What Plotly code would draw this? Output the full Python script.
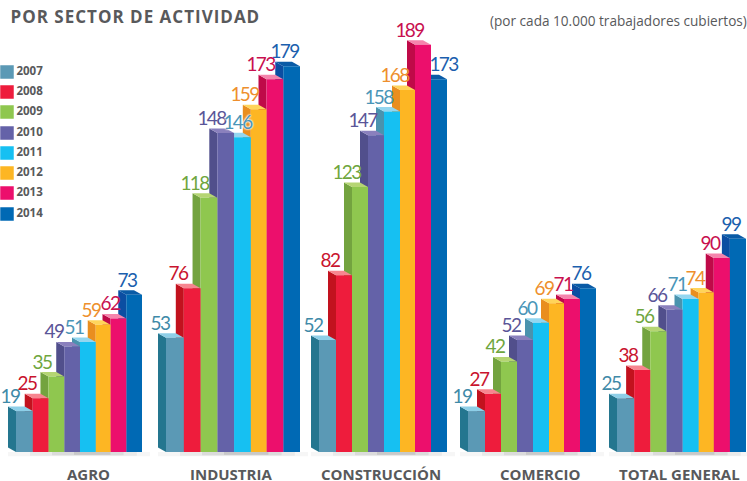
import plotly.graph_objects as go

# ---------- data ----------
years = ["2007", "2008", "2009", "2010", "2011", "2012", "2013", "2014"]
sectors = ["AGRO", "INDUSTRIA", "CONSTRUCCIÓN", "COMERCIO", "TOTAL GENERAL"]
agro = [19, 25, 35, 49, 51, 59, 62, 73]
industria = [53, 76, 118, 148, 146, 159, 173, 179]
construccion = [52, 82, 123, 147, 158, 168, 189, 173]
comercio = [19, 27, 42, 52, 60, 69, 71, 76]
total_general = [25, 38, 56, 66, 71, 74, 90, 99]
series_by_sector = [agro, industria, construccion, comercio, total_general]

# ---------- style / layout ----------
front = ["#5b99b5", "#ee1c3c", "#8fc74f", "#6462a8", "#16c0f2", "#fdb623", "#ec0f6c", "#0069b4"]
side = ["#24768f", "#c2121e", "#73a33f", "#514f8c", "#4a93ae", "#e98e1f", "#bf0a48", "#0b4ea2"]
top = ["#8ecfe8", "#f7858f", "#b5d573", "#8a80bd", "#93d6f0", "#ffd45a", "#f584ac", "#0a5ba6"]
label_col = ["#3f8aa8", "#c9142e", "#6fa63e", "#5a5598", "#4a95b8", "#ee8f2d", "#c8104f", "#1b5fae"]
GRAY = "#58595b"
W, H = 747, 481
BASE_PX, PX_PER_UNIT = 452, 2.155
DX, DY_PX = 8, 4.5
GROUP_SPAN = [(16, 142), (166, 300), (319, 447), (468, 596), (617, 746)]
WIDTHS = [17, 16, 16, 16, 16, 15, 16, 16]
SECTOR_X = [88, 231, 381, 540, 679]
LEGEND_PX = [72, 92, 112, 133, 153, 173, 193, 214]
LABEL_FONT = "Lato, sans-serif"
BOLD_FONT = "Open Sans, sans-serif"
# horizontal label placement: (sector index, year index) -> px from the bar's left edge
LABEL_NUDGE = {(0, 3): -10, (0, 5): -5, (0, 6): -1, (1, 4): 3, (2, 7): 12, (3, 5): -5, (3, 6): -1,
               (4, 3): -9, (4, 5): -4, (4, 6): -4}


def py(p):
    return (BASE_PX - p) / PX_PER_UNIT


DY = DY_PX / PX_PER_UNIT
fig = go.Figure()
annotations = []
shapes = []


def poly(xs, ys, color, name):
    fig.add_trace(go.Scatter(x=xs + xs[:1], y=ys + ys[:1], mode="lines", fill="toself",
                             fillcolor=color, line=dict(width=0, color=color),
                             name=name, showlegend=False, hoverinfo="skip"))


for g, (sector, vals) in enumerate(zip(sectors, series_by_sector)):
    x0, x1 = GROUP_SPAN[g]
    scale = (x1 - x0) / sum(WIDTHS)
    edges = [x0]
    for w in WIDTHS:
        edges.append(edges[-1] + w * scale)
    # floor shadow
    for k, op in enumerate([0.05, 0.07, 0.10, 0.14]):
        inset = k * 22
        shapes.append(dict(type="rect", layer="below", x0=x0 - 8 + inset, x1=x1 + 8 - inset * 0.6,
                           y0=py(453 + 3.2 - k * 0.5), y1=py(452),
                           fillcolor="#555555", opacity=op, line_width=0))
    # right to left: the left neighbour hides the side face of the next bar
    for i in range(len(years) - 1, -1, -1):
        l, r, v = edges[i], edges[i + 1], vals[i]
        poly([l - DX, l, l, l - DX], [DY, 0, v, v + DY], side[i], f"{sector} {years[i]} lado")
        poly([l - DX, r - DX, r, l], [v + DY, v + DY, v, v], top[i], f"{sector} {years[i]} tope")
        poly([l, r, r, l], [0, 0, v, v], front[i], f"{sector} {years[i]}")
    for i, v in enumerate(vals):
        off = LABEL_NUDGE.get((g, i), -6 if i < 7 else 1)
        halo = "0 0 2px white, 0 0 2px white, 0 0 2px white" if v == 146 else "none"
        annotations.append(dict(x=edges[i] + off, y=v + DY - 1.5 / PX_PER_UNIT, text=str(v),
                                showarrow=False, xanchor="center", yanchor="bottom", borderpad=0,
                                font=dict(family=LABEL_FONT, size=19, color=label_col[i], shadow=halo)))
    annotations.append(dict(x=SECTOR_X[g], y=py(473.5), text=f"<b>{sector}</b>", showarrow=False,
                            font=dict(family=BOLD_FONT, size=15, color=GRAY)))

# legend
for i, yr in enumerate(years):
    fig.add_trace(go.Scatter(x=[7], y=[py(LEGEND_PX[i])], mode="markers+text", text=[f"<b>{yr}</b>"],
                             textposition="middle right",
                             marker=dict(symbol="square", size=13.5, color=front[i]),
                             textfont=dict(family=BOLD_FONT, size=11.5, color=GRAY),
                             name=yr, showlegend=False, hoverinfo="skip"))

annotations.append(dict(x=20, y=py(16.5), text="<b>POR SECTOR DE ACTIVIDAD</b>", showarrow=False, xanchor="left",
                        font=dict(family=BOLD_FONT, size=17, color=GRAY)))
annotations.append(dict(x=488, y=py(20), text="(por cada 10.000 trabajadores cubiertos)", showarrow=False, xanchor="left",
                        font=dict(family="Open Sans, sans-serif", size=13.6, color=GRAY)))

fig.update_layout(width=W, height=H, margin=dict(l=0, r=0, t=0, b=0), paper_bgcolor="white",
                  plot_bgcolor="white", showlegend=False, annotations=annotations, shapes=shapes,
                  xaxis=dict(range=[0, W], visible=False, fixedrange=True),
                  yaxis=dict(range=[py(H), py(0)], visible=False, fixedrange=True))
POST = """
document.body.style.margin = '0';
document.querySelectorAll('.annotation-text').forEach(function (t) {
  var s = t.textContent;
  if (/^[0-9]+$/.test(s)) { t.style.letterSpacing = '-1.6px'; }
  else if (s.indexOf('POR SECTOR') === 0) { t.style.letterSpacing = '1px'; }
});
"""
fig.write_html("out.html", config=dict(displayModeBar=False), post_script=POST)
